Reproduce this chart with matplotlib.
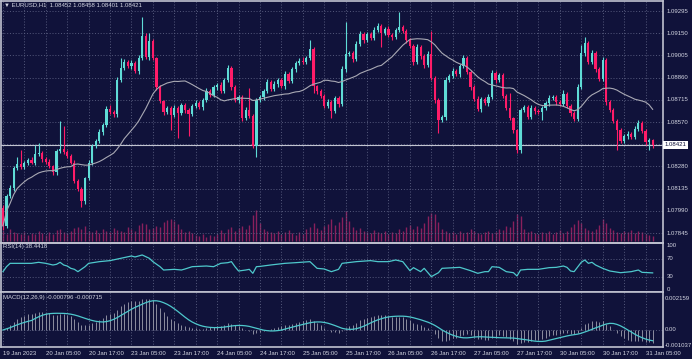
import numpy as np
import pandas as pd
import matplotlib
matplotlib.use("Agg")
import matplotlib.pyplot as plt
from matplotlib.transforms import blended_transform_factory as btf

# ---------------- data ----------------
symbol_header = "\u25bc EURUSD,H1  1.08452 1.08458 1.08401 1.08421"
first_open = 1.08009
closes = [
    1.07891, 1.08087, 1.08139, 1.08270, 1.08296, 1.08276, 1.08303, 1.08322, 1.08303, 1.08361,
    1.08368, 1.08329, 1.08309, 1.08283, 1.08244, 1.08381, 1.08394, 1.08374, 1.08348, 1.08303,
    1.08185, 1.08133, 1.08054, 1.08205, 1.08303, 1.08414, 1.08446, 1.08505, 1.08551, 1.08655,
    1.08636, 1.08623, 1.08845, 1.08923, 1.08962, 1.08936, 1.08956, 1.08903, 1.08988, 1.09132,
    1.08995, 1.09099, 1.08988, 1.08799, 1.08707, 1.08636, 1.08662, 1.08616, 1.08662, 1.08629,
    1.08681, 1.08649, 1.08623, 1.08675, 1.08694, 1.08668, 1.08714, 1.08773, 1.08747, 1.08799,
    1.08812, 1.08773, 1.08845, 1.08923, 1.08799, 1.08714, 1.08734, 1.08596, 1.08649, 1.08610,
    1.08414, 1.08714, 1.08734, 1.08773, 1.08832, 1.08786, 1.08818, 1.08845, 1.08805, 1.08884,
    1.08838, 1.08916, 1.08956, 1.08969, 1.08962, 1.08988, 1.09047, 1.08805, 1.08773, 1.08740,
    1.08675, 1.08701, 1.08642, 1.08727, 1.08688, 1.08916, 1.09014, 1.09021, 1.08982, 1.09080,
    1.09145, 1.09106, 1.09145, 1.09119, 1.09171, 1.09197, 1.09152, 1.09178, 1.09138, 1.09125,
    1.09171, 1.09191, 1.09165, 1.09106, 1.09067, 1.08962, 1.09060, 1.09001, 1.08943, 1.09014,
    1.08858, 1.08714, 1.08583, 1.08603, 1.08845, 1.08871, 1.08903, 1.08884, 1.08936, 1.08988,
    1.08897, 1.08799, 1.08721, 1.08655, 1.08721, 1.08694, 1.08734, 1.08890, 1.08845, 1.08877,
    1.08740, 1.08662, 1.08596, 1.08518, 1.08387, 1.08649, 1.08668, 1.08603, 1.08662, 1.08642,
    1.08636, 1.08662, 1.08694, 1.08727, 1.08734, 1.08701, 1.08688, 1.08753, 1.08675, 1.08629,
    1.08590, 1.08799, 1.09021, 1.09086, 1.08962, 1.09021, 1.08916, 1.08851, 1.08975, 1.08701,
    1.08649, 1.08577, 1.08518, 1.08446, 1.08479, 1.08492, 1.08472, 1.08525, 1.08564, 1.08512,
    1.08440, 1.08452, 1.08421,
]
# wick lengths above / below the candle body, in points (0.00001)
upper_wick_pts = [
    20, 12, 18, 15, 46, 91, 14, 10, 18, 59,
    65, 16, 12, 20, 9, 14, 183, 150, 12, 15,
    18, 10, 14, 9, 20, 12, 16, 22, 15, 18,
    25, 14, 20, 65, 18, 12, 22, 15, 20, 124,
    18, 52, 14, 10, 12, 8, 15, 12, 20, 14,
    16, 12, 10, 14, 18, 12, 15, 20, 16, 12,
    14, 18, 12, 20, 16, 14, 12, 10, 18, 144,
    10, 14, 12, 16, 20, 14, 18, 12, 15, 20,
    12, 16, 14, 18, 26, 15, 59, 12, 10, 14,
    12, 18, 14, 16, 12, 20, 209, 15, 12, 18,
    20, 14, 16, 12, 18, 20, 15, 14, 18, 12,
    16, 98, 14, 12, 15, 10, 18, 14, 12, 20,
    150, 10, 14, 16, 20, 12, 18, 14, 16, 20,
    14, 12, 10, 16, 14, 12, 18, 20, 14, 16,
    12, 14, 98, 10, 8, 14, 16, 12, 18, 14,
    12, 16, 14, 18, 12, 14, 16, 26, 12, 10,
    14, 20, 52, 39, 14, 18, 12, 16, 20, 14,
    12, 10, 14, 16, 12, 18, 14, 16, 20, 12,
    14, 12, 5,
]
lower_wick_pts = [
    26, 14, 12, 18, 10, 14, 12, 16, 10, 14,
    12, 18, 16, 14, 20, 18, 12, 14, 16, 10,
    14, 16, 39, 18, 12, 16, 14, 12, 18, 16,
    14, 18, 20, 12, 16, 14, 18, 12, 20, 16,
    14, 18, 16, 20, 12, 18, 14, 98, 16, 163,
    14, 18, 144, 12, 16, 14, 18, 12, 16, 14,
    18, 12, 16, 14, 20, 12, 18, 16, 14, 12,
    13, 72, 14, 18, 12, 16, 14, 20, 12, 16,
    14, 12, 18, 16, 12, 14, 16, 46, 18, 14,
    16, 12, 46, 14, 18, 12, 16, 14, 18, 12,
    14, 18, 12, 16, 14, 12, 91, 16, 14, 18,
    12, 14, 16, 18, 14, 20, 12, 16, 18, 14,
    16, 20, 85, 14, 18, 12, 16, 14, 18, 12,
    14, 18, 16, 12, 20, 14, 16, 12, 18, 14,
    16, 12, 14, 18, 20, 20, 14, 16, 12, 18,
    14, 52, 12, 16, 14, 18, 12, 16, 14, 18,
    16, 12, 14, 18, 16, 12, 20, 14, 16, 18,
    14, 16, 130, 12, 13, 18, 14, 12, 16, 14,
    18, 52, 20,
]
volume_ticks = [
    1800, 1260, 2160, 1620, 1440, 1260, 1620, 1080, 1440, 1260, 1800, 1440, 1080, 1620, 1260, 1980, 2160, 1620, 1440, 1800, 2340,
    2520, 2160, 2700, 1800, 1620, 1980, 1440, 2160, 1800, 1620, 2340, 1980, 1800, 1620, 2520,
    2160, 1800, 2880, 3240, 3060, 2160, 2340, 2700, 2520, 3420,
    3780, 3960, 3600, 3060, 2160, 1620, 1800, 1440, 1080, 900, 1260, 720, 1080, 900, 1260,
    1980, 1440, 2160, 2520, 1800, 2340, 2700, 2160, 2880, 4680, 5580, 3240, 2160, 1800, 1620,
    1440, 1800, 1260, 1620, 1980, 1440, 1080, 1620, 1260, 2160, 2520, 3240, 2340, 1980, 2700,
    3060, 3960, 2880, 3420, 4320, 5400, 3600, 2520, 1980, 2340, 1800, 1620, 1440, 1980, 1620,
    1440, 1800, 1260, 1620, 1440, 2160, 1800, 2520, 2880, 2160, 2700, 2340, 3240, 4500, 5040,
    4860, 3420, 2160, 1800, 1440, 1620, 1260, 1800, 1440, 1620, 2160, 1800, 1440, 1260, 1620,
    1800, 1440, 1620, 2160, 1980, 2700, 2520, 3600, 4860, 4500, 2160, 1620, 1800, 1440, 1260,
    1620, 1440, 1800, 1260, 1620, 1980, 1440, 1800, 2520, 3060, 3780, 3240, 2340, 1980, 1800,
    2160, 2880, 3960, 3240, 2340, 1980, 1620, 1440, 1800, 1620, 1980, 1440, 1800, 1620, 1260, 1080, 900,
]
rsi_bar = [0, 1, 2, 5, 8, 10, 12, 14, 15, 16, 17, 18, 19, 20, 21, 23, 24, 27, 30, 33,
           36, 37, 39, 41, 42, 44, 45, 48, 50, 51, 53, 57, 59, 61, 63, 64, 65, 66, 68, 69,
           70, 71, 72, 75, 79, 82, 86, 88, 90, 92, 94, 95, 99, 103, 105, 108, 110, 112, 114, 115,
           117, 118, 120, 122, 123, 128, 131, 133, 135, 136, 137, 139, 141, 143, 144, 145, 147, 150, 153, 155,
           157, 158, 159, 160, 162, 163, 164, 165, 166, 168, 170, 173, 176, 178, 179, 182]
rsi_value = [41.2, 52.4, 59.9, 59.9, 59.9, 62.2, 59.9, 56.2, 57.7, 62.2, 56.2, 53.9, 48.7, 46.5, 41.2, 52.4, 59.9, 63.7, 66.0, 71.2,
             76.4, 74.2, 78.7, 71.2, 63.7, 52.4, 44.9, 46.4, 44.9, 47.2, 52.4, 53.9, 52.4, 59.9, 61.4, 63.7, 52.4, 42.7, 44.9, 46.4,
             37.5, 52.4, 53.0, 56.2, 59.9, 61.4, 63.7, 48.7, 47.2, 41.2, 46.4, 59.9, 63.7, 66.0, 63.7, 63.7, 67.4, 63.7, 43.4, 50.2,
             41.2, 48.7, 30.0, 38.9, 48.7, 50.9, 43.4, 37.5, 41.2, 41.2, 52.4, 50.9, 41.2, 38.9, 31.5, 44.9, 46.4, 46.4, 50.2, 50.9,
             53.9, 50.9, 42.7, 41.2, 62.2, 67.4, 59.9, 62.2, 56.2, 48.7, 42.7, 38.9, 41.2, 44.9, 39.7, 38.44]
price_levels = [1.09295, 1.09150, 1.09005, 1.08860, 1.08715, 1.08570, 1.08425,
                1.08280, 1.08135, 1.07990, 1.07845]
current_price = 1.08421
rsi_levels = [70, 30]
rsi_labels = [100, 70, 30, 0]
macd_labels = [0.002159, 0.0, -0.001037]
rsi_title = "RSI(14) 38.4418"
macd_title = "MACD(12,26,9) -0.000796 -0.000715"
time_labels = ["19 Jan 2023", "20 Jan 05:00", "20 Jan 17:00", "23 Jan 05:00", "23 Jan 17:00",
               "24 Jan 05:00", "24 Jan 17:00", "25 Jan 05:00", "25 Jan 17:00", "26 Jan 05:00",
               "26 Jan 17:00", "27 Jan 05:00", "27 Jan 17:00", "30 Jan 05:00", "30 Jan 17:00",
               "31 Jan 05:00"]
bars_per_label = 12
bars_per_grid = 6
ma_period = 20

# ---------------- styling ----------------
BG = "#10123a"
GRID = "#5d6184"
FRAME = "#c0c2d0"
BULL = "#5fdcd6"
BEAR = "#ff1c68"
VOL = "#8a205c"
MA_C = "#a9a9b4"
LINE_C = "#4ec8cc"
HIST_C = "#8c8da0"
TXT = "#d4d6e2"
FONT = ["Liberation Sans", "DejaVu Sans"]
FS = 4.3
DOT = (0, (1.2, 2.2))

W, H = 692, 359
fig = plt.figure(figsize=(W / 100, H / 100), dpi=100, facecolor=BG)

def fr(top_px, bot_px):
    return [1 / W, (H - bot_px) / H, 662 / W, (bot_px - top_px) / H]

ax_bg = fig.add_axes(fr(1, 243))
ax_bg.set_facecolor(BG)
ax_bg.axis("off")
ax = fig.add_axes(fr(1, 243))
ax_r = fig.add_axes(fr(243, 292), sharex=ax)
ax_m = fig.add_axes(fr(292, 347), sharex=ax)

n = len(closes)
idx = np.arange(n)
c = np.array(closes)
o = np.concatenate([[first_open], c[:-1]])
top = np.maximum(o, c)
bot = np.minimum(o, c)
hi = top + np.array(upper_wick_pts) * 1e-5
lo = bot - np.array(lower_wick_pts) * 1e-5
bull = c >= o
cols = np.where(bull, BULL, BEAR)

for a in (ax, ax_r, ax_m):
    a.set_facecolor(BG)
    for s in a.spines.values():
        s.set_color(FRAME)
        s.set_linewidth(1.2)
    a.tick_params(left=False, right=False, bottom=False, top=False,
                  labelleft=False, labelbottom=False)
    for g in range(0, n + 6, bars_per_grid):
        a.axvline(g, color=GRID, lw=0.6, ls=DOT, zorder=0)

ax.set_xlim(-0.55, 184.9)

# ---------------- price panel ----------------
ax.set_ylim(1.077802, 1.093605)
for lv in price_levels:
    ax.axhline(lv, color=GRID, lw=0.6, ls=DOT, zorder=0)

vax = ax.twinx()
vax.set_ylim(-2.5 * 180, 239.5 * 180)
vax.axis("off")
vax.vlines(idx, 0, volume_ticks, color=VOL, lw=1.0, zorder=1)
ax.set_zorder(vax.get_zorder() + 1)
ax.patch.set_visible(False)
vax.patch.set_visible(False)

ax.vlines(idx, lo, hi, color=cols, lw=0.8, zorder=3)
ax.bar(idx, np.maximum(top - bot, 0.00002), bottom=bot, width=0.62,
       color=cols, linewidth=0, zorder=4)

ma = pd.Series(c).rolling(ma_period, min_periods=1).mean()
ax.plot(idx, ma, color=MA_C, lw=0.8, zorder=5)
ax.axhline(current_price, color="#c2c4d0", lw=0.8, zorder=2)

tr = btf(ax.transAxes, ax.transData)
for lv in price_levels:
    if abs(lv - current_price) < 0.0001:
        continue
    ax.text(1.0055, lv, f"{lv:.5f}", transform=tr, color=TXT, fontsize=FS,
            family=FONT, va="center", ha="left", clip_on=False)
ax.text(1.003, current_price, f"{current_price:.5f}", transform=tr, color=BG,
        fontsize=FS, family=FONT, va="center", ha="left", clip_on=False,
        bbox=dict(boxstyle="square,pad=0.25", fc="white", ec="none"))
ax.text(0.005, 0.984, symbol_header, transform=ax.transAxes, color=TXT,
        fontsize=FS, family=FONT, va="center", ha="left")

# ---------------- RSI panel ----------------
ax_r.set_ylim(-4.5, 105.6)
for lv in rsi_levels:
    ax_r.axhline(lv, color=GRID, lw=0.6, ls=DOT, zorder=0)
ax_r.plot(rsi_bar, rsi_value, color=LINE_C, lw=0.9, zorder=3)
trr = btf(ax_r.transAxes, ax_r.transData)
for lv in rsi_labels:
    ax_r.text(1.0055, lv, f"{lv}", transform=trr, color=TXT, fontsize=FS,
              family=FONT, va="center", ha="left", clip_on=False)
ax_r.text(0.003, 0.93, rsi_title, transform=ax_r.transAxes, color=TXT,
          fontsize=FS, family=FONT, va="center", ha="left")

# ---------------- MACD panel ----------------
s = pd.Series(c)
macd_main = s.ewm(span=12, adjust=False).mean() - s.ewm(span=26, adjust=False).mean()
macd_signal = macd_main.rolling(9, min_periods=1).mean()
ax_m.set_ylim(-0.001149, 0.002568)
ax_m.axhline(0, color=GRID, lw=0.6, ls=DOT, zorder=0)
ax_m.vlines(idx, 0, macd_main, color=HIST_C, lw=0.7, zorder=2)
ax_m.plot(idx, macd_signal, color=LINE_C, lw=0.9, zorder=3)
trm = btf(ax_m.transAxes, ax_m.transData)
for lv in macd_labels:
    lab = "0.00" if lv == 0 else f"{lv:.6f}"
    ax_m.text(1.0025, lv, lab, transform=trm, color=TXT, fontsize=FS,
              family=FONT, va="center", ha="left", clip_on=False)
ax_m.text(0.003, 0.905, macd_title, transform=ax_m.transAxes, color=TXT,
          fontsize=FS, family=FONT, va="center", ha="left")

trx = btf(ax_m.transData, ax_m.transAxes)
for k, lab in enumerate(time_labels):
    ax_m.text(k * bars_per_label, -0.115, lab, transform=trx, color=TXT,
              fontsize=FS, family=FONT, va="center", ha="left", clip_on=False)

fig.savefig("out.png", dpi=100, facecolor=BG)
